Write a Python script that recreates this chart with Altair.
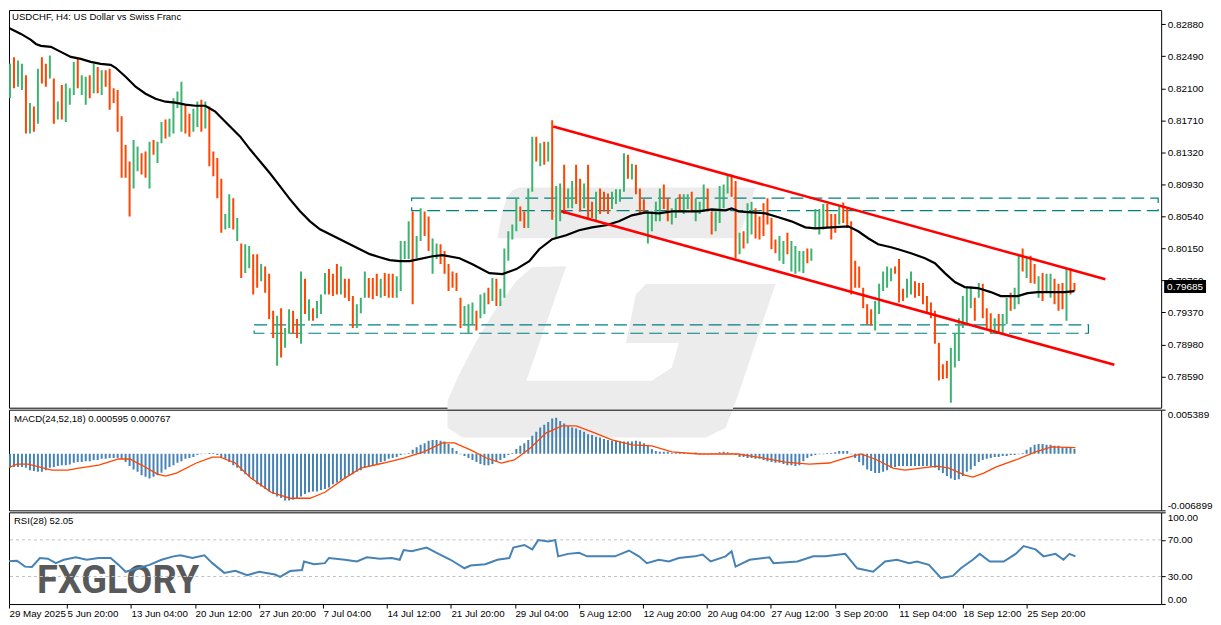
import altair as alt
import pandas as pd

# ---------------- text ----------------
TITLE = "USDCHF, H4:  US Dollar vs Swiss Franc"
MACD_LABEL = "MACD(24,52,18) 0.000595 0.000767"
RSI_LABEL = "RSI(28) 52.05"
BRAND = "FXGLORY"
LAST_PRICE = 0.79685

# ---------------- price bars (one bar = 8h slot, index 0..268) ----------------
bar_high = [
    0.8250, 0.8240, 0.8248, 0.8244, 0.8240, 0.8226, 0.8192, 0.8188, 0.8234, 0.8248,
    0.8240, 0.8250, 0.8222, 0.8194, 0.8214, 0.8216, 0.8210, 0.8242, 0.8247, 0.8226,
    0.8224, 0.8226, 0.8240, 0.8236, 0.8232, 0.8232, 0.8234, 0.8210, 0.8208, 0.8176,
    0.8141, 0.8121, 0.8147, 0.8139, 0.8131, 0.8133, 0.8145, 0.8147, 0.8145, 0.8169,
    0.8172, 0.8173, 0.8198, 0.8206, 0.8218, 0.8191, 0.8179, 0.8185, 0.8194, 0.8196,
    0.8194, 0.8188, 0.8133, 0.8125, 0.8100, 0.8057, 0.8081, 0.8076, 0.8052, 0.8021,
    0.8020, 0.8018, 0.8008, 0.8008, 0.7996, 0.7993, 0.7984, 0.7939, 0.7933, 0.7942,
    0.7918, 0.7941, 0.7939, 0.7929, 0.7987, 0.7978, 0.7953, 0.7942, 0.7951, 0.7959,
    0.7985, 0.7990, 0.7984, 0.7996, 0.7993, 0.7978, 0.7978, 0.7957, 0.7947, 0.7955,
    0.7987, 0.7979, 0.7979, 0.7984, 0.7978, 0.7985, 0.7984, 0.7984, 0.7981, 0.8024,
    0.8024, 0.8048, 0.8060, 0.8030, 0.8064, 0.8060, 0.8054, 0.8027, 0.8021, 0.8020,
    0.8012, 0.7996, 0.7987, 0.7985, 0.7955, 0.7945, 0.7947, 0.7949, 0.7939, 0.7959,
    0.7961, 0.7967, 0.7979, 0.7978, 0.7966, 0.8015, 0.8036, 0.8044, 0.8076, 0.8066,
    0.8060, 0.8088, 0.8151, 0.8151, 0.8143, 0.8145, 0.8145, 0.8171, 0.8091, 0.8094,
    0.8117, 0.8088, 0.8097, 0.8117, 0.8100, 0.8094, 0.8117, 0.8072, 0.8084, 0.8088,
    0.8084, 0.8082, 0.8084, 0.8087, 0.8087, 0.8131, 0.8129, 0.8118, 0.8117, 0.8088,
    0.8075, 0.8060, 0.8060, 0.8072, 0.8088, 0.8093, 0.8076, 0.8064, 0.8076, 0.8081,
    0.8081, 0.8081, 0.8084, 0.8076, 0.8072, 0.8093, 0.8088, 0.8060, 0.8060, 0.8091,
    0.8093, 0.8105, 0.8105, 0.8097, 0.8034, 0.8036, 0.8070, 0.8072, 0.8064, 0.8054,
    0.8070, 0.8076, 0.8052, 0.8026, 0.8030, 0.8024, 0.8034, 0.8024, 0.8018, 0.8012,
    0.8012, 0.8015, 0.8015, 0.8063, 0.8063, 0.8069, 0.8069, 0.8057, 0.8057, 0.8066,
    0.8071, 0.8063, 0.8048, 0.8000, 0.7993, 0.7967, 0.7947, 0.7941, 0.7951, 0.7972,
    0.7987, 0.7993, 0.7991, 0.7993, 0.8002, 0.7966, 0.7978, 0.7987, 0.7975, 0.7973,
    0.7973, 0.7957, 0.7949, 0.7939, 0.7900, 0.7874, 0.7878, 0.7894, 0.7912, 0.7930,
    0.7957, 0.7969, 0.7969, 0.7955, 0.7973, 0.7972, 0.7942, 0.7936, 0.7930, 0.7935,
    0.7935, 0.7955, 0.7961, 0.7967, 0.8006, 0.8015, 0.8003, 0.8006, 0.7996, 0.7981,
    0.7985, 0.7984, 0.7984, 0.7978, 0.7972, 0.7973, 0.7990, 0.7991, 0.7973,
]
bar_low = [
    0.8216, 0.8198, 0.8210, 0.8212, 0.8208, 0.8155, 0.8155, 0.8157, 0.8167, 0.8216,
    0.8212, 0.8222, 0.8167, 0.8172, 0.8172, 0.8169, 0.8190, 0.8202, 0.8210, 0.8202,
    0.8190, 0.8198, 0.8204, 0.8204, 0.8202, 0.8212, 0.8184, 0.8192, 0.8157, 0.8101,
    0.8101, 0.8054, 0.8088, 0.8109, 0.8105, 0.8101, 0.8088, 0.8129, 0.8119, 0.8143,
    0.8149, 0.8151, 0.8155, 0.8186, 0.8157, 0.8155, 0.8151, 0.8157, 0.8163, 0.8157,
    0.8161, 0.8115, 0.8103, 0.8076, 0.8034, 0.8038, 0.8040, 0.8038, 0.8024, 0.7979,
    0.7985, 0.7991, 0.7959, 0.7967, 0.7975, 0.7961, 0.7929, 0.7906, 0.7872, 0.7882,
    0.7894, 0.7911, 0.7911, 0.7906, 0.7899, 0.7935, 0.7927, 0.7927, 0.7930, 0.7935,
    0.7959, 0.7959, 0.7957, 0.7959, 0.7959, 0.7955, 0.7951, 0.7918, 0.7918, 0.7936,
    0.7955, 0.7955, 0.7953, 0.7957, 0.7955, 0.7957, 0.7955, 0.7955, 0.7955, 0.7963,
    0.8002, 0.8002, 0.7947, 0.8003, 0.8024, 0.8030, 0.8012, 0.7984, 0.8002, 0.7996,
    0.7984, 0.7963, 0.7967, 0.7963, 0.7918, 0.7921, 0.7911, 0.7923, 0.7915, 0.7930,
    0.7935, 0.7947, 0.7951, 0.7945, 0.7945, 0.7955, 0.8000, 0.8026, 0.8036, 0.8048,
    0.8040, 0.8040, 0.8084, 0.8121, 0.8115, 0.8117, 0.8121, 0.8050, 0.8027, 0.8048,
    0.8057, 0.8064, 0.8064, 0.8069, 0.8060, 0.8064, 0.8052, 0.8052, 0.8048, 0.8057,
    0.8060, 0.8057, 0.8063, 0.8069, 0.8072, 0.8084, 0.8100, 0.8099, 0.8081, 0.8057,
    0.8057, 0.8021, 0.8036, 0.8048, 0.8048, 0.8063, 0.8048, 0.8044, 0.8052, 0.8060,
    0.8057, 0.8063, 0.8060, 0.8048, 0.8057, 0.8060, 0.8060, 0.8032, 0.8036, 0.8046,
    0.8064, 0.8082, 0.8078, 0.8003, 0.8008, 0.8015, 0.8021, 0.8032, 0.8027, 0.8026,
    0.8030, 0.8044, 0.8014, 0.8009, 0.8000, 0.7996, 0.8008, 0.7987, 0.7984, 0.7987,
    0.7985, 0.7997, 0.8000, 0.8040, 0.8032, 0.8038, 0.8040, 0.8026, 0.8034, 0.8044,
    0.8046, 0.8040, 0.7959, 0.7967, 0.7967, 0.7942, 0.7923, 0.7921, 0.7915, 0.7935,
    0.7963, 0.7967, 0.7975, 0.7984, 0.7949, 0.7951, 0.7955, 0.7959, 0.7955, 0.7957,
    0.7947, 0.7935, 0.7930, 0.7899, 0.7854, 0.7856, 0.7857, 0.7827, 0.7870, 0.7878,
    0.7918, 0.7923, 0.7942, 0.7927, 0.7955, 0.7930, 0.7918, 0.7912, 0.7911, 0.7911,
    0.7912, 0.7923, 0.7939, 0.7941, 0.7947, 0.7987, 0.7979, 0.7973, 0.7972, 0.7955,
    0.7951, 0.7961, 0.7955, 0.7947, 0.7939, 0.7941, 0.7927, 0.7959, 0.7963,
]
bar_up = [
    0, 1, 0, 1, 1, 0, 1, 0, 1, 0,
    0, 1, 0, 1, 0, 1, 1, 1, 0, 1,
    1, 0, 1, 0, 1, 0, 0, 0, 0, 0,
    0, 0, 1, 1, 0, 0, 1, 0, 1, 1,
    0, 1, 1, 1, 1, 0, 0, 1, 1, 0,
    1, 0, 0, 0, 0, 1, 1, 0, 1, 0,
    1, 1, 0, 0, 1, 0, 0, 0, 1, 0,
    1, 1, 0, 0, 1, 0, 1, 0, 1, 1,
    1, 0, 0, 0, 1, 0, 0, 0, 1, 1,
    1, 0, 0, 0, 1, 0, 0, 0, 1, 1,
    1, 1, 0, 1, 1, 0, 0, 1, 1, 0,
    0, 0, 0, 0, 0, 1, 1, 1, 0, 1,
    1, 0, 1, 0, 1, 1, 1, 1, 1, 0,
    0, 1, 1, 0, 1, 0, 1, 0, 1, 1,
    0, 1, 1, 0, 0, 1, 0, 0, 1, 0,
    0, 0, 1, 1, 1, 1, 0, 1, 0, 0,
    0, 1, 1, 1, 1, 0, 0, 1, 1, 0,
    1, 1, 0, 1, 1, 1, 0, 0, 1, 1,
    1, 1, 0, 0, 1, 0, 1, 1, 0, 0,
    0, 0, 0, 0, 1, 1, 0, 1, 1, 1,
    1, 0, 1, 1, 1, 1, 0, 0, 0, 1,
    0, 0, 0, 0, 0, 0, 0, 0, 1, 1,
    1, 1, 1, 0, 0, 0, 1, 1, 0, 0,
    0, 0, 0, 0, 0, 0, 0, 1, 1, 1,
    1, 1, 1, 0, 1, 0, 0, 0, 1, 0,
    1, 1, 0, 1, 1, 0, 1, 0, 0, 1,
    0, 1, 1, 0, 0, 0, 1, 0, 0,
]

# ---------------- moving average ----------------
ma_idx = [-0.75, 1.25, 3.75, 6.25, 7.5, 8.75, 11.25, 13.75, 16.25, 18.75,
          21.25, 23.75, 26.25, 27.5, 30, 32.5, 35, 37.5, 40, 42.5,
          45, 47.5, 50, 51.25, 52.5, 53.75, 56.25, 58.75, 61.25, 63.75,
          66.25, 68.75, 71.25, 73.75, 76.25, 78.75, 81.25, 83.75, 86.25, 88.75,
          91.25, 93.75, 96.25, 98.75, 101.25, 107, 109.5, 113.75, 117, 121.25,
          124.5, 128, 131.25, 133.75, 137, 140.5, 143.75, 147, 150.5, 153.75,
          157, 160.5, 163.75, 167, 170.5, 173.75, 177, 180.5, 182, 183.75,
          187, 190.5, 193.75, 197, 200.5, 203, 207, 211.25, 213.75, 216.25,
          218.75, 222, 223.75, 227, 230.5, 233, 235.5, 238, 240.5, 243.75,
          247, 249.5, 253.75, 256.25, 258.75, 262, 265.5, 268]
ma_val = [0.82872, 0.82823, 0.82763, 0.82690, 0.82641, 0.82617, 0.82605, 0.82544, 0.82483, 0.82459,
          0.82423, 0.82398, 0.82386, 0.82350, 0.82241, 0.82119, 0.82034, 0.81973, 0.81937, 0.81925,
          0.81901, 0.81888, 0.81888, 0.81852, 0.81816, 0.81755, 0.81633, 0.81512, 0.81354, 0.81209,
          0.81063, 0.80905, 0.80747, 0.80602, 0.80480, 0.80383, 0.80322, 0.80262, 0.80201, 0.80140,
          0.80080, 0.80043, 0.80007, 0.79995, 0.79995, 0.80055, 0.80068, 0.80031, 0.79958, 0.79849,
          0.79837, 0.79898, 0.79995, 0.80140, 0.80262, 0.80310, 0.80371, 0.80407, 0.80432, 0.80480,
          0.80553, 0.80589, 0.80577, 0.80602, 0.80602, 0.80602, 0.80626, 0.80614, 0.80638, 0.80602,
          0.80589, 0.80577, 0.80529, 0.80480, 0.80407, 0.80395, 0.80407, 0.80419, 0.80359, 0.80274,
          0.80201, 0.80165, 0.80140, 0.80092, 0.80031, 0.79970, 0.79849, 0.79740, 0.79679, 0.79667,
          0.79618, 0.79570, 0.79570, 0.79606, 0.79618, 0.79618, 0.79618, 0.79630]

# ---------------- drawn objects ----------------
channel_i1 = [137.25, 139.25]
channel_i2 = [275.75, 278.0]
channel_p1 = [0.81634, 0.80602]
channel_p2 = [0.79776, 0.78732]

zone_i1 = [101.75, 62.25]
zone_i2 = [289.0, 271.5]
zone_top = [0.80763, 0.79218]
zone_bot = [0.80610, 0.79117]

# ---------------- MACD ----------------
macd_hist = [
    -0.0017, -0.0017, -0.0016, -0.0016, -0.0016, -0.0017, -0.0020, -0.0021, -0.0022, -0.0022,
    -0.0020, -0.0017, -0.0016, -0.0015, -0.0014, -0.0014, -0.0013, -0.0011, -0.0010, -0.0010,
    -0.0009, -0.0009, -0.00075, -0.00075, -0.0006, -0.0006, -0.0005, -0.0005, -0.0005, -0.0006,
    -0.0010, -0.0015, -0.0019, -0.0022, -0.0026, -0.0028, -0.0030, -0.0028, -0.0026, -0.0023,
    -0.0019, -0.0016, -0.0014, -0.0011, -0.0009, -0.0006, -0.0005, -0.0004, -0.00015, -0.00005,
    0.00005, 0.0001, 0.0001, -0.00015, -0.0004, -0.0006, -0.0010, -0.0014, -0.0017, -0.0021,
    -0.0025, -0.0028, -0.0032, -0.0037, -0.0040, -0.0043, -0.0046, -0.0049, -0.0052, -0.0054,
    -0.0057, -0.0057, -0.0056, -0.0054, -0.0052, -0.0049, -0.0047, -0.0046, -0.0046, -0.0044,
    -0.0043, -0.0041, -0.0037, -0.0035, -0.0032, -0.0030, -0.0027, -0.0025, -0.0022, -0.0020,
    -0.0017, -0.0016, -0.0014, -0.0013, -0.0010, -0.0009, -0.0006, -0.0005, -0.0004, -0.00015,
    -0.00005, 0.0001, 0.0005, 0.0008, 0.0011, 0.0013, 0.0016, 0.0017, 0.0017, 0.0016,
    0.0015, 0.0012, 0.0007, 0.00035, -0.00005, -0.00025, -0.0005, -0.00075, -0.0010, -0.00125,
    -0.0014, -0.0014, -0.00125, -0.0010, -0.00075, -0.0005, -0.00015, 0.0001, 0.0006, 0.0010,
    0.0013, 0.0017, 0.0022, 0.0027, 0.0032, 0.00355, 0.0039, 0.0043, 0.0044, 0.0040,
    0.0037, 0.0034, 0.0032, 0.0031, 0.0029, 0.0027, 0.0024, 0.0023, 0.0021, 0.0020,
    0.0018, 0.0017, 0.0016, 0.0016, 0.0015, 0.0015, 0.0015, 0.0015, 0.0016, 0.0015,
    0.0013, 0.0010, 0.0006, 0.00035, 0.00025, 0.00025, 0.00025, 0.0001, 0.0001, 0.0002,
    0.0002, 0.0001, 0.0001, 0.00015, 0.0001, -0.00005, -0.00005, 0.0001, 0.0001, 0.0002,
    0.00025, 0.0002, 0.0001, -0.00015, -0.0004, -0.0004, -0.0005, -0.0005, -0.0006, -0.0006,
    -0.00075, -0.0009, -0.0010, -0.0011, -0.0011, -0.00125, -0.0014, -0.0014, -0.0015, -0.0014,
    -0.0009, -0.0005, -0.00025, -0.00015, -0.00005, -0.00005, 0.0001, 0.0001, 0.0002, 0.00035,
    0.00035, 0.00035, -0.00005, -0.0005, -0.0010, -0.0014, -0.0019, -0.0021, -0.00235, -0.00235,
    -0.0022, -0.0020, -0.0017, -0.0016, -0.0015, -0.0015, -0.0015, -0.0015, -0.0015, -0.0015,
    -0.0015, -0.0015, -0.0016, -0.0017, -0.0020, -0.00235, -0.0027, -0.0030, -0.0032, -0.0031,
    -0.0027, -0.0022, -0.0019, -0.0015, -0.0010, -0.00075, -0.0006, -0.0005, -0.0004, -0.0004,
    -0.00025, -0.00025, -0.00015, -0.00015, -0.00005, 0.0001, 0.0005, 0.0008, 0.0011, 0.0012,
    0.0012, 0.0011, 0.0011, 0.0010, 0.0010, 0.0008, 0.0008, 0.0007, 0.000595,
]
signal_idx = [-0.75, 2.75, 5.5, 8.5, 11.5, 15.5, 18.25, 23.25, 28.25, 31,
              34, 38, 40, 42.75, 47.75, 51.75, 53.75, 57.5, 61.5, 66.5,
              71.25, 76.25, 80, 85, 89, 94.75, 99.75, 104.75, 109.5, 112.5,
              116.5, 120.5, 124.25, 127.5, 131.25, 135.5, 139.5, 143, 147, 152,
              157, 162, 167, 173.75, 183.5, 188.5, 195.5, 201.5, 206.5, 210.5,
              214.5, 218.5, 222.5, 225.5, 233.5, 236.5, 240.5, 242.5, 245.25, 248.25,
              253.25, 258.25, 262.25, 268.25]
signal_val = [-0.00198, -0.00125, -0.00125, -0.00162, -0.00198, -0.00198, -0.00174, -0.00137, -0.00063, -0.00063,
              -0.00137, -0.00248, -0.00272, -0.00235, -0.00112, -0.00039, -0.00039, -0.00112, -0.00297, -0.00469,
              -0.00542, -0.00542, -0.00469, -0.00297, -0.00174, -0.00112, -0.00051, 0.00023, 0.00134, 0.00134,
              0.00048, -0.00051, -0.00112, -0.00075, 0.00060, 0.00256, 0.00342, 0.00342, 0.00268, 0.00170,
              0.00109, 0.00096, 0.00023, -0.00002, -0.00002, -0.00039, -0.00100, -0.00125, -0.00112, -0.00051,
              -0.00002, -0.00075, -0.00174, -0.00198, -0.00149, -0.00174, -0.00260, -0.00284, -0.00235, -0.00162,
              -0.00075, 0.00023, 0.00084, 0.000767]

# ---------------- RSI ----------------
rsi_idx = [-0.75, 2.75, 4.75, 6.5, 8.5, 10.5, 12.5, 14.5, 17.5, 20.25,
           23.25, 26.25, 28.25, 30, 33, 36, 39, 42, 43.75, 46.75,
           49.75, 51.75, 54.75, 57.5, 60.5, 63.5, 67.5, 68.75, 71.25, 74.25,
           74.75, 77.25, 80, 81, 85, 88, 90.5, 93.75, 96.75, 98.75,
           99.75, 101.75, 105.5, 108.5, 111.5, 115, 116.5, 120.25, 123.25, 126.25,
           127.25, 130, 132, 133.5, 136, 137.75, 138.5, 141, 143.75, 145.75,
           148.75, 152.75, 156.25, 158.75, 160.75, 163.75, 166.25, 168.75, 172.75, 174.75,
           176.75, 180.5, 182, 183, 186.5, 188.5, 191.5, 192.5, 198.5, 202.5,
           205.5, 210.5, 213.5, 217.5, 220.5, 223.5, 226.5, 228.5, 231.5, 234.5,
           237.5, 239.5, 242.5, 244.25, 246.75, 250.25, 253.25, 255.25, 258.25, 260.25,
           263.25, 265.25, 266.75, 268.25]
rsi_val = [46.4, 47.2, 40.8, 40.4, 50.2, 49.4, 44.6, 48.3, 50.9, 48.3,
           50.2, 50.2, 42.7, 35.2, 39.0, 42.7, 48.3, 52.0, 53.1, 50.2,
           53.1, 44.6, 34.0, 36.3, 31.5, 35.2, 32.2, 29.6, 36.0, 37.1,
           46.4, 43.5, 44.6, 50.2, 48.3, 46.4, 50.9, 49.4, 50.2, 48.3,
           58.8, 57.6, 61.5, 54.7, 48.3, 39.0, 42.0, 43.5, 48.3, 50.2,
           61.5, 64.4, 59.6, 69.7, 68.2, 69.7, 52.0, 54.7, 55.8, 52.0,
           52.0, 52.0, 58.4, 52.0, 44.6, 48.3, 46.4, 50.2, 52.0, 53.9,
           46.4, 52.0, 57.6, 40.8, 48.3, 49.4, 50.9, 44.6, 46.4, 52.0,
           52.0, 54.7, 39.0, 35.2, 46.4, 48.3, 44.6, 46.4, 42.7, 28.4,
           30.7, 39.0, 48.3, 54.7, 46.4, 46.4, 54.7, 63.3, 59.6, 52.0,
           54.7, 48.3, 54.7, 52.05]
rsi_levels = [70, 30]

# ---------------- axes ----------------
price_ticks = [0.82880, 0.82490, 0.82100, 0.81710, 0.81320, 0.80930, 0.80540,
               0.80150, 0.79760, 0.79370, 0.78980, 0.78590]
macd_ticks = [0.005389, -0.006899]
rsi_ticks = [100, 70, 30, 0]
time_tick_idx = [0.75, 15.3, 31.35, 47.4, 63.45, 79.5, 95.55, 111.6, 127.65, 143.7,
                 159.75, 175.8, 191.85, 207.9, 223.95, 240.0, 256.05]
time_tick_lbl = ["29 May 2025", "5 Jun 20:00", "13 Jun 04:00", "20 Jun 12:00", "27 Jun 20:00",
                 "7 Jul 04:00", "14 Jul 12:00", "21 Jul 20:00", "29 Jul 04:00", "5 Aug 12:00",
                 "12 Aug 20:00", "20 Aug 04:00", "27 Aug 12:00", "3 Sep 20:00", "11 Sep 04:00",
                 "18 Sep 12:00", "25 Sep 20:00"]

# ---------------- style ----------------
W = 1156
H_MAIN, H_MACD, H_RSI = 399, 101, 92
X_DOMAIN = [0.75, 289.75]
FONT = "Liberation Sans"
GREEN = "#3cb371"
ORANGE = "#ff4500"
BLUE = "#4682b4"
TEAL = "#008080"

LOGO_PATH = (
    "M-0.548,-0.756 L0.880,-0.756 L0.777,-0.449 L-0.681,-0.449 L-0.651,-0.611 "
    "L-0.620,-0.702 L-0.590,-0.738 Z "
    "M-0.470,-0.274 L-0.265,-0.280 L-0.506,0.413 L0.253,0.413 L0.373,0.334 "
    "L0.416,0.184 L0.096,0.184 L0.157,-0.111 L0.217,-0.172 L1.0,-0.172 "
    "L0.777,0.491 L0.699,0.696 L0.578,0.756 L-0.892,0.756 L-0.982,0.696 "
    "L-0.982,0.533 L-0.910,0.370 L-0.807,0.172 L-0.687,-0.027 L-0.566,-0.190 Z"
)
LOGO_POS = (151.5, 0.79369)


def xscale():
    return alt.Scale(domain=X_DOMAIN, nice=False, zero=False)


price_scale = alt.Scale(domain=[0.78210, 0.83054], nice=False, zero=False)
price_axis = alt.Axis(orient="right", values=price_ticks, format=".5f", title=None,
                      grid=False, domain=False, tickSize=4, labelPadding=2,
                      labelFontSize=10)


def py(field):
    return alt.Y(field, scale=price_scale, axis=price_axis)


def px(field):
    return alt.X(field, scale=xscale(), axis=None)


one = pd.DataFrame({"a": [0]})

# ---------------- main pane ----------------
bars_df = pd.DataFrame({
    "i": list(range(len(bar_high))),
    "hi": bar_high,
    "lo": bar_low,
    "dir": ["up" if u else "down" for u in bar_up],
})
ma_df = pd.DataFrame({"i": ma_idx, "p": ma_val})
chan_df = pd.DataFrame({"i1": channel_i1, "i2": channel_i2, "p1": channel_p1, "p2": channel_p2})
zone_df = pd.DataFrame({"i1": zone_i1, "i2": zone_i2, "p1": zone_top, "p2": zone_bot})
last_df = pd.DataFrame({"p": [LAST_PRICE], "lbl": [f"{LAST_PRICE:.5f}"]})
logo_df = pd.DataFrame({"i": [LOGO_POS[0]], "p": [LOGO_POS[1]]})

logo = alt.Chart(logo_df).mark_point(
    shape=LOGO_PATH, size=110224, filled=True, color="#ececec", opacity=1, strokeWidth=0
).encode(x=px("i:Q"), y=py("p:Q"))

zones = alt.Chart(zone_df).mark_rect(
    fillOpacity=0, stroke=TEAL, strokeWidth=1.2, strokeDash=[13, 6]
).encode(x=px("i1:Q"), x2="i2:Q", y=py("p1:Q"), y2="p2:Q")

bars = alt.Chart(bars_df).mark_rule(strokeWidth=2, clip=True).encode(
    x=px("i:Q"), y=py("lo:Q"), y2="hi:Q",
    color=alt.Color("dir:N", scale=alt.Scale(domain=["up", "down"], range=[GREEN, ORANGE]), legend=None),
)

ma = alt.Chart(ma_df).mark_line(color="black", strokeWidth=2.2, clip=True).encode(
    x=px("i:Q"), y=py("p:Q"))

channel = alt.Chart(chan_df).mark_rule(color="#ff0000", strokeWidth=2.6).encode(
    x=px("i1:Q"), x2="i2:Q", y=py("p1:Q"), y2="p2:Q")

price_box = alt.Chart(last_df).mark_tick(
    orient="horizontal", size=42, thickness=13, color="black", opacity=1
).encode(x=alt.value(W + 24), y=py("p:Q"))

price_txt = alt.Chart(last_df).mark_text(
    color="white", font=FONT, fontSize=10, align="center", baseline="middle"
).encode(x=alt.value(W + 24), y=py("p:Q"), text="lbl:N")

title_txt = alt.Chart(one).mark_text(
    align="left", baseline="middle", font=FONT, fontSize=9.6, color="black"
).encode(x=alt.value(3), y=alt.value(7), text=alt.value(TITLE))

main = alt.layer(logo, zones, bars, ma, channel, price_box, price_txt, title_txt).properties(
    width=W, height=H_MAIN)

# ---------------- MACD pane ----------------
macd_scale = alt.Scale(domain=[-0.006899, 0.005389], nice=False, zero=False)
macd_axis = alt.Axis(orient="right", values=macd_ticks, title=None, grid=False, domain=False,
                     tickSize=4, labelPadding=2, labelFlush=True, labelFontSize=10,
                     labelExpr="replace(format(datum.value, '.6f'), '\u2212', '-')")

hist_df = pd.DataFrame({"i": list(range(len(macd_hist))), "h": macd_hist})
sig_df = pd.DataFrame({"i": signal_idx, "s": signal_val})

hist = alt.Chart(hist_df).mark_rule(strokeWidth=2, color=BLUE, clip=True).encode(
    x=px("i:Q"), y=alt.Y("h:Q", scale=macd_scale, axis=macd_axis), y2=alt.datum(0))
sig = alt.Chart(sig_df).mark_line(color=ORANGE, strokeWidth=1.3, clip=True).encode(
    x=px("i:Q"), y=alt.Y("s:Q", scale=macd_scale, axis=macd_axis))
macd_txt = alt.Chart(one).mark_text(
    align="left", baseline="middle", font=FONT, fontSize=9.6, color="black"
).encode(x=alt.value(5), y=alt.value(9), text=alt.value(MACD_LABEL))

macd = alt.layer(hist, sig, macd_txt).properties(width=W, height=H_MACD)

# ---------------- RSI pane ----------------
rsi_scale = alt.Scale(domain=[0, 100], nice=False, zero=False)
rsi_axis = alt.Axis(orient="right", values=rsi_ticks, format=".2f", title=None, grid=False,
                    domain=False, tickSize=4, labelPadding=2, labelFlush=True, labelFontSize=10)

label_expr = "[" + ",".join(repr(s) for s in time_tick_lbl) + "][indexof([" + \
    ",".join(str(v) for v in time_tick_idx) + "], datum.value)]"
x_axis = alt.Axis(orient="bottom", values=time_tick_idx, labelExpr=label_expr, title=None,
                  grid=False, domain=False, tickSize=4, labelAlign="left", labelBaseline="top",
                  labelPadding=1, labelOverlap=False, labelFlush=False, labelFontSize=9.8)

rsi_df = pd.DataFrame({"i": rsi_idx, "r": rsi_val})
lvl_df = pd.DataFrame({"v": rsi_levels})

brand = alt.Chart(one).mark_text(
    align="left", baseline="alphabetic", font="Roboto", fontWeight="bold", fontSize=38,
    color="#58595b"
).encode(x=alt.value(28), y=alt.value(81), text=alt.value(BRAND))

levels = alt.Chart(lvl_df).mark_rule(color="#c0c0c0", strokeDash=[3, 3], strokeWidth=1).encode(
    y=alt.Y("v:Q", scale=rsi_scale, axis=rsi_axis))
rsi_line = alt.Chart(rsi_df).mark_line(color=BLUE, strokeWidth=2, clip=True).encode(
    x=alt.X("i:Q", scale=xscale(), axis=x_axis),
    y=alt.Y("r:Q", scale=rsi_scale, axis=rsi_axis))
rsi_txt = alt.Chart(one).mark_text(
    align="left", baseline="middle", font=FONT, fontSize=9.6, color="black"
).encode(x=alt.value(5), y=alt.value(9), text=alt.value(RSI_LABEL))

rsi = alt.layer(brand, levels, rsi_line, rsi_txt).properties(width=W, height=H_RSI)

chart = alt.vconcat(
    main, macd, rsi, spacing=2, bounds="flush",
    padding={"left": 0, "top": 0, "right": 0, "bottom": 0}, background="white"
).resolve_scale(x="independent", y="independent").configure_view(
    stroke="black", strokeWidth=1
).configure_axis(
    labelFont=FONT, labelColor="black", tickColor="black"
)

chart.save("out.html", embed_options={"renderer": "svg", "actions": False})
